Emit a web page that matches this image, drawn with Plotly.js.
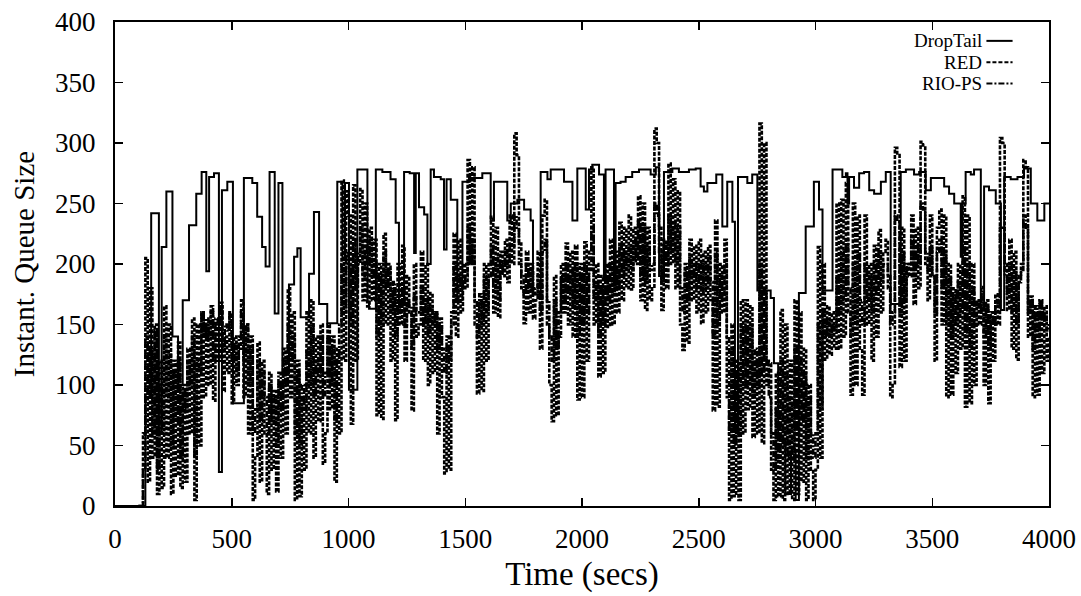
<!DOCTYPE html>
<html>
<head>
<meta charset="utf-8">
<script src="https://cdn.plot.ly/plotly-3.0.1.min.js"></script>
<style>
  html, body { margin: 0; padding: 0; background: #fff; }
  #chart { width: 1081px; height: 596px; }
</style>
</head>
<body>
<div id="chart"></div>
<script>
// ---- DropTail (step series: change times and queue sizes) ----
const dropTailTime = [0,130,155,188,200,220,246,270,290,317,348,371,391,403,424,445,458,481,505,552,588,609,630,645,662,684,700,717,745,767,781,795,831,852,874,909,952,974,985,1002,1038,1081,1088,1117,1145,1180,1202,1216,1238,1262,1281,1288,1302,1324,1338,1352,1366,1395,1409,1420,1438,1466,1488,1516,1573,1609,1623,1680,1695,1723,1752,1780,1790,1823,1852,1866,1923,1959,1980,2016,2030,2044,2073,2094,2101,2137,2144,2165,2187,2215,2244,2294,2316,2330,2351,2387,2415,2458,2487,2508,2522,2537,2575,2601,2622,2644,2655,2668,2708,2729,2751,2808,2822,2840,2870,2895,2915,2929,2958,2993,3015,3030,3073,3115,3130,3137,3144,3165,3187,3208,3230,3251,3280,3301,3322,3365,3387,3422,3444,3472,3494,3522,3551,3572,3594,3622,3629,3643,3665,3679,3708,3722,3743,3772,3794,3808,3836,3865,3893,3922,3950,3980,4000];
const dropTailQueue = [0,90,242,60,214,260,140,100,170,232,258,276,194,272,275,28,261,268,85,271,267,239,214,198,276,159,267,110,183,206,213,156,192,243,167,151,268,203,267,96,278,169,163,278,276,270,234,167,276,275,209,275,247,241,200,278,272,270,212,270,253,170,268,271,275,236,268,236,250,253,245,236,175,276,270,278,268,236,279,245,278,282,274,187,278,182,267,268,272,276,278,274,280,190,276,279,276,278,279,264,260,267,274,231,268,235,62,272,267,274,178,172,118,55,10,45,5,176,231,268,245,178,278,272,275,250,272,263,275,276,261,258,268,276,167,276,278,274,276,261,271,271,264,258,250,206,250,276,274,278,162,264,261,250,162,272,270,272,279,250,236,250,250];

// ---- RED and RIO-PS: sampled every 10 s from t = 100 s to 4000 s ----
const sampleStart = 100;
const sampleStep = 10;
const redQueue = [
  0,0,60,205,20,180,40,150,10,120,          // 100
  15,165,40,150,10,120,25,135,15,100,       // 200
  20,130,60,155,5,150,50,160,90,150,        // 300
  100,165,87,150,120,168,95,140,110,160,    // 400
  85,140,100,130,170,90,150,60,140,5,       // 500
  40,135,20,120,60,10,110,30,90,12,         // 600
  100,40,130,60,180,90,160,5,120,8,         // 700
  90,30,160,60,170,40,140,70,150,35,        // 800
  60,150,80,140,20,130,60,269,120,260,      // 900
  240,68,265,120,200,262,170,250,165,230,   // 1000
  170,220,75,200,72,225,150,200,120,180,    // 1100
  71,200,150,215,120,190,160,79,200,140,    // 1200
  150,210,120,200,100,176,110,160,60,150,   // 1300
  90,27,130,30,150,225,140,220,160,200,     // 1400
  180,286,200,280,150,93,170,95,200,120,    // 1500
  200,239,160,230,156,210,190,220,185,240,  // 1600
  200,308,290,217,180,151,210,160,200,155,  // 1700
  170,210,130,240,253,150,100,70,190,75,    // 1800
  140,200,160,217,150,210,140,215,88,200,   // 1900
  90,218,120,210,280,150,200,107,190,110,   // 2000
  200,148,220,150,210,160,234,170,230,180,  // 2100
  240,179,230,200,256,170,250,162,230,170,  // 2200
  180,312,300,230,162,220,180,283,200,270,  // 2300
  180,260,150,129,200,135,220,170,215,160,  // 2400
  220,151,210,160,215,170,79,236,82,200,    // 2500
  160,220,90,5,150,8,120,5,170,60,          // 2600
  170,80,165,57,120,60,316,52,300,100,      // 2700
  118,30,5,110,8,162,5,150,10,120,          // 2800
  5,170,10,160,20,130,5,100,30,5,           // 2900
  30,214,40,200,121,165,125,160,130,250,    // 3000
  130,253,140,267,160,92,250,100,240,130,   // 3100
  92,240,150,200,120,215,140,228,160,210,   // 3200
  220,180,90,100,296,290,115,230,120,200,   // 3300
  190,240,167,230,180,301,298,200,170,240,  // 3400
  190,120,230,245,150,240,90,200,92,180,    // 3500
  110,200,130,256,82,240,85,200,100,170,    // 3600
  150,181,100,170,85,160,120,175,150,304,   // 3700
  300,200,162,220,130,210,121,190,200,286,  // 3800
  280,140,173,90,160,92,170,110,165,120,140 // 3900-4000
];
const rioQueue = [
  0,0,30,140,90,130,60,145,30,100,          // 100
  60,140,90,125,50,110,70,120,40,95,        // 200
  80,120,100,140,40,120,110,160,140,155,    // 300
  140,160,120,155,150,165,130,150,145,158,  // 400
  120,135,110,140,160,120,150,100,130,60,   // 500
  80,120,70,110,90,60,100,70,95,50,         // 600
  110,80,120,100,150,120,140,60,110,50,     // 700
  100,80,130,100,150,90,120,110,140,90,     // 800
  110,140,100,130,70,120,150,200,160,210,   // 900
  200,150,220,180,210,230,190,215,200,220,  // 1000
  190,200,140,190,150,210,180,195,160,185,  // 1100
  140,170,160,180,150,170,165,130,175,160,  // 1200
  160,180,150,170,140,165,150,160,130,155,  // 1300
  130,110,140,120,160,200,170,190,180,185,  // 1400
  190,230,200,220,170,140,175,150,190,160,  // 1500
  190,215,180,205,170,200,195,210,200,215,  // 1600
  215,240,230,200,190,175,200,180,195,175,  // 1700
  180,190,160,210,220,170,140,120,170,130,  // 1800
  160,190,170,200,175,195,165,200,140,190,  // 1900
  150,200,160,195,230,170,185,140,180,150,  // 2000
  190,170,200,175,195,180,215,190,210,195,  // 2100
  215,195,220,205,235,190,230,185,215,195,  // 2200
  200,250,240,210,185,215,200,240,210,235,  // 2300
  200,230,180,160,195,170,205,185,200,180,  // 2400
  200,175,200,180,205,185,140,210,150,190,  // 2500
  170,200,140,60,130,50,110,60,150,100,     // 2600
  150,100,150,90,130,100,200,110,180,120,   // 2700
  90,60,30,80,40,120,50,110,40,90,          // 2800
  40,130,60,120,70,110,40,90,60,40,         // 2900
  60,150,80,160,140,155,140,150,145,190,    // 3000
  160,210,170,220,180,140,200,150,210,170,  // 3100
  150,200,170,190,160,200,175,210,185,200,  // 3200
  200,190,150,160,240,235,160,210,170,195,  // 3300
  200,220,190,215,200,250,245,210,195,215,  // 3400
  190,160,210,220,180,210,150,190,140,175,  // 3500
  150,185,160,215,140,200,130,180,150,170,  // 3600
  160,175,140,165,130,155,150,170,165,230,  // 3700
  230,190,175,200,160,195,150,185,195,240,  // 3800
  230,160,170,130,165,140,170,150,160,145,150 // 3900-4000
];

// ---- axis ticks and labels ----
const xTickStep = 500;
const yTickStep = 50;
const seriesNames = ['DropTail', 'RED', 'RIO-PS'];

const sampleTime = redQueue.map((_, i) => sampleStart + i * sampleStep);

const FONT = 'Liberation Serif, Times New Roman, serif';
const styleRED = { color: '#000', width: 2.6, dash: '4px,1.5px', shape: 'hv' };
const styleRIO = { color: '#000', width: 2.6, dash: '6px,1.5px,2px,1.5px', shape: 'hv' };
const styleDT = { color: '#000', width: 2, shape: 'hv' };

const traces = [
  { x: sampleTime, y: redQueue, name: seriesNames[1], type: 'scatter', mode: 'lines', line: styleRED, showlegend: false, hoverinfo: 'skip' },
  { x: sampleTime, y: rioQueue, name: seriesNames[2], type: 'scatter', mode: 'lines', line: styleRIO, showlegend: false, hoverinfo: 'skip' },
  { x: dropTailTime, y: dropTailQueue, name: seriesNames[0], type: 'scatter', mode: 'lines', line: styleDT, showlegend: false, hoverinfo: 'skip' }
];

// legend drawn gnuplot-style: right-aligned text with sample line to its right
const legRows = [0.961, 0.917, 0.873];
const legDash = ['solid', '4px,2px', '6px,2px,2px,2px'];
const annotations = seriesNames.map((n, i) => ({
  xref: 'paper', yref: 'paper', x: 0.929, y: legRows[i], xanchor: 'right', yanchor: 'middle',
  text: n, showarrow: false, borderpad: 0, font: { family: FONT, size: 19, color: '#000' }
}));
const shapes = seriesNames.map((n, i) => ({
  type: 'line', xref: 'paper', yref: 'paper', x0: 0.933, x1: 0.961, y0: legRows[i], y1: legRows[i],
  line: { color: '#000', width: 2, dash: legDash[i] }
}));

const axisCommon = {
  showline: true, linecolor: '#000', linewidth: 2, mirror: 'ticks',
  ticks: 'inside', ticklen: 8, tickwidth: 1.5, tickcolor: '#000',
  showgrid: false, zeroline: false,
  tickfont: { family: FONT, size: 27, color: '#000' }
};

const layout = {
  width: 1081, height: 596,
  margin: { l: 115, r: 32, t: 22, b: 90, pad: 0 },
  paper_bgcolor: '#fff', plot_bgcolor: '#fff',
  showlegend: false,
  xaxis: Object.assign({}, axisCommon, {
    range: [0, 4000], tick0: 0, dtick: xTickStep, ticklabelstandoff: 8,
    title: { text: 'Time (secs)', font: { family: FONT, size: 33, color: '#000' }, standoff: 8 }
  }),
  yaxis: Object.assign({}, axisCommon, {
    range: [0, 400], tick0: 0, dtick: yTickStep, ticklabelstandoff: 12,
    title: { text: 'Instant. Queue Size', font: { family: FONT, size: 29, color: '#000' }, standoff: 12 }
  }),
  annotations: annotations,
  shapes: shapes
};

Plotly.newPlot('chart', traces, layout, { staticPlot: true, displayModeBar: false });
</script>
</body>
</html>
